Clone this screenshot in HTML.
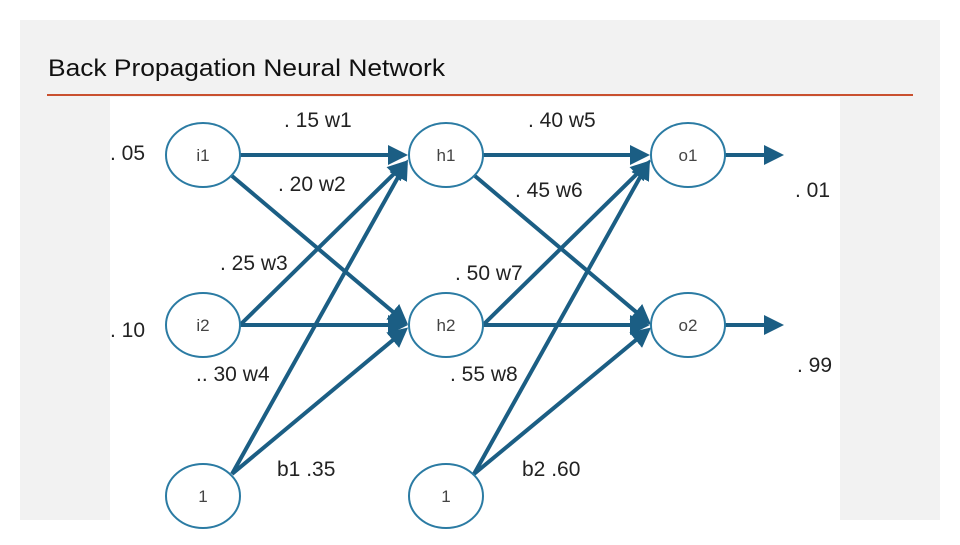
<!DOCTYPE html>
<html><head><meta charset="utf-8"><style>
body{margin:0;background:#fff;width:960px;height:540px;overflow:hidden;font-family:"Liberation Sans",sans-serif}
</style></head><body>
<svg width="960" height="540" viewBox="0 0 960 540" xmlns="http://www.w3.org/2000/svg">
<defs><marker id="a" markerWidth="5" markerHeight="5" refX="4" refY="2.5" orient="auto" markerUnits="strokeWidth"><path d="M0,0L5,2.5L0,5z" fill="#1b5e84"/></marker></defs>
<rect x="20" y="20" width="920" height="500" fill="#f2f2f2"/>
<rect x="110" y="97" width="730" height="423" fill="#fff"/>
<text x="48" y="76" font-size="24" fill="#111" textLength="397" lengthAdjust="spacingAndGlyphs">Back Propagation Neural Network</text>
<line x1="47" y1="95" x2="913" y2="95" stroke="#c9502f" stroke-width="2"/>
<g stroke="#1b5e84" stroke-width="4" fill="none" marker-end="url(#a)">
<line x1="240" y1="155" x2="404" y2="155"/>
<line x1="232" y1="176" x2="405" y2="322"/>
<line x1="240" y1="325" x2="405" y2="163"/>
<line x1="240" y1="325" x2="404" y2="325"/>
<line x1="232" y1="474" x2="406" y2="163"/>
<line x1="232" y1="474" x2="405" y2="330"/>
<line x1="483" y1="155" x2="646" y2="155"/>
<line x1="475" y1="176" x2="648" y2="322"/>
<line x1="483" y1="325" x2="648" y2="163"/>
<line x1="483" y1="325" x2="646" y2="325"/>
<line x1="474" y1="474" x2="648" y2="163"/>
<line x1="474" y1="474" x2="648" y2="330"/>
<line x1="725" y1="155" x2="780" y2="155"/>
<line x1="725" y1="325" x2="780" y2="325"/>
</g>
<g fill="#fff" stroke="#2b7ba3" stroke-width="2">
<ellipse cx="203" cy="155" rx="37" ry="32"/><ellipse cx="446" cy="155" rx="37" ry="32"/><ellipse cx="688" cy="155" rx="37" ry="32"/>
<ellipse cx="203" cy="325" rx="37" ry="32"/><ellipse cx="446" cy="325" rx="37" ry="32"/><ellipse cx="688" cy="325" rx="37" ry="32"/>
<ellipse cx="203" cy="496" rx="37" ry="32"/><ellipse cx="446" cy="496" rx="37" ry="32"/>
</g>
<g font-size="17" fill="#444" text-anchor="middle">
<text x="203" y="161">i1</text><text x="446" y="161">h1</text><text x="688" y="161">o1</text>
<text x="203" y="331">i2</text><text x="446" y="331">h2</text><text x="688" y="331">o2</text>
<text x="203" y="502">1</text><text x="446" y="502">1</text>
</g>
<g font-size="21" fill="#222">
<text x="284" y="127">. 15 w1</text><text x="278" y="191">. 20 w2</text><text x="220" y="270">. 25 w3</text>
<text x="196" y="381">.. 30 w4</text><text x="277" y="476">b1 .35</text>
<text x="528" y="127">. 40 w5</text><text x="515" y="197">. 45 w6</text><text x="455" y="280">. 50 w7</text>
<text x="450" y="381">. 55 w8</text><text x="522" y="476">b2 .60</text>
<text x="110" y="160">. 05</text><text x="110" y="337">. 10</text><text x="795" y="197">. 01</text><text x="797" y="372">. 99</text>
</g>
</svg>
</body></html>
